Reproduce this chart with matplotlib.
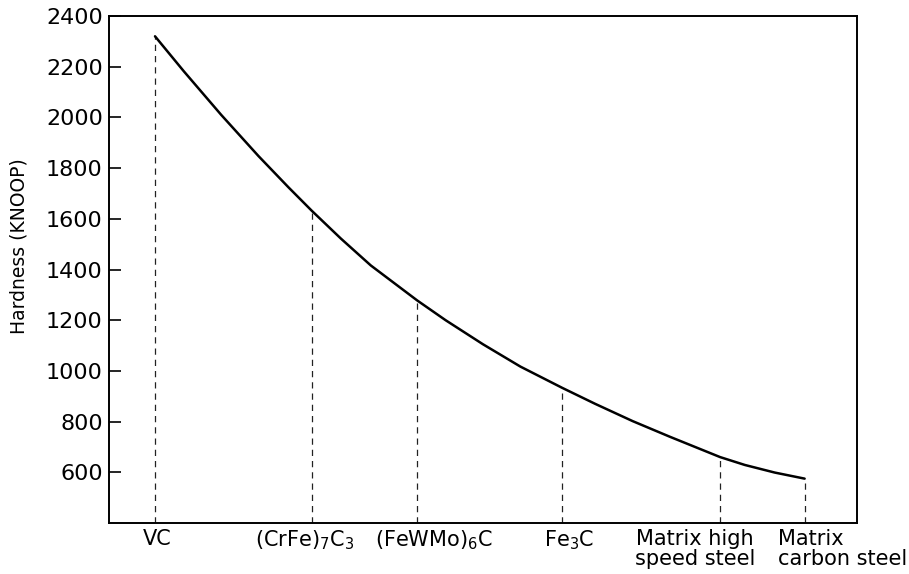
"""Knoop hardness of carbides and steel matrices, plotted as one falling curve."""

import matplotlib
matplotlib.use("Agg")
import matplotlib.pyplot as plt
from matplotlib.transforms import offset_copy

plt.rcParams["font.family"] = ["DejaVu Sans"]
plt.rcParams["mathtext.fontset"] = "dejavusans"

# Phases along the x axis (positions are in percent of the axis width).
PHASES = [r"VC", r"(CrFe)$_7$C$_3$", r"(FeWMo)$_6$C", r"Fe$_3$C",
          "Matrix high\nspeed steel", "Matrix\ncarbon steel"]
PHASE_X = [6.15, 27.1, 41.2, 60.6, 81.7, 93.0]
PHASE_HARDNESS = [2320, 1632, 1278, 933, 660, 575]

# Points.
CURVE_X = [6.15, 10, 15, 20, 24, 27.1, 31, 35, 41.2, 45, 50, 55,
           60.6, 65, 70, 75, 81.7, 85, 89, 93.0]
CURVE_Y = [2320, 2182, 2010, 1847, 1724, 1632, 1522, 1416, 1278, 1200,
           1105, 1017, 933, 870, 802, 740, 660, 629, 599, 575]

Y_TICKS = [600, 800, 1000, 1200, 1400, 1600, 1800, 2000, 2200, 2400]

# Horizontal nudges (pixels) and alignment for each phase label.
LABEL_SHIFT = [2, -7, 17, 7, -25, -27]
LABEL_HA = ["center", "center", "center", "center", "center", "left"]


def main():
    fig = plt.figure(figsize=(9.09, 5.74), dpi=100, facecolor="white")
    ax = fig.add_axes([109 / 909, 1 - 523 / 574, 748 / 909, 507 / 574])

    ax.plot(CURVE_X, CURVE_Y, color="black", linewidth=1.8,
            solid_capstyle="round", zorder=3)
    for x, h in zip(PHASE_X, PHASE_HARDNESS):
        ax.plot([x, x], [400, h], color="#222222", linewidth=0.9,
                linestyle=(0, (5, 4)), zorder=2)

    ax.set_xlim(0, 100)
    ax.set_ylim(400, 2400)
    ax.set_yticks(Y_TICKS)
    ax.set_yticklabels([str(v) for v in Y_TICKS], fontsize=16)
    ax.tick_params(axis="y", direction="in", length=8.5, width=1.2, pad=4.5)

    ax.set_xticks(PHASE_X)
    ax.set_xticklabels(PHASES, fontsize=15, linespacing=1.0, va="top")
    ax.tick_params(axis="x", length=0, pad=4)
    for label, dx, ha in zip(ax.get_xticklabels(), LABEL_SHIFT, LABEL_HA):
        label.set_ha(ha)
        label.set_transform(offset_copy(label.get_transform(), fig=fig,
                                        x=dx, y=0, units="dots"))

    for spine in ax.spines.values():
        spine.set_linewidth(1.4)

    ax.set_ylabel("Hardness (KNOOP)", fontsize=13.5)
    ax.yaxis.set_label_coords(-0.108, 0.546)

    fig.savefig("out.png", dpi=100, facecolor="white")
    plt.close(fig)


if __name__ == "__main__":
    main()
